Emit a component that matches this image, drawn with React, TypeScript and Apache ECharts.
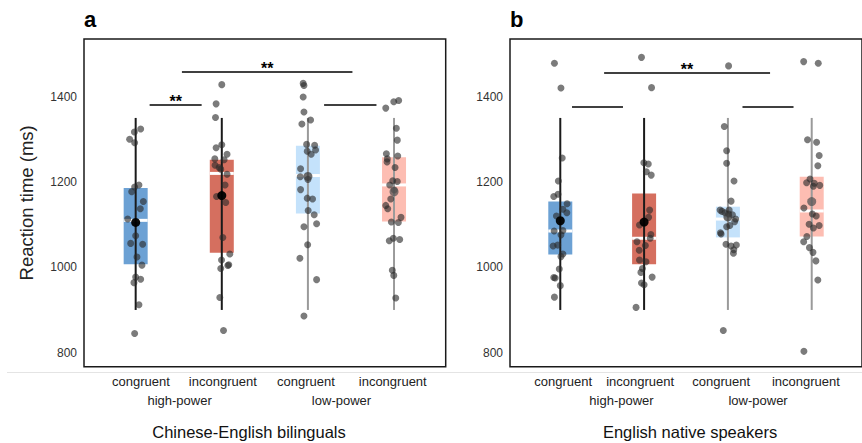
import React, { useEffect, useRef } from 'react';
import * as echarts from 'echarts';

const conditions = ['congruent', 'incongruent', 'congruent', 'incongruent'];
const groups = ['high-power', 'low-power'];
const panelLetters = ['a', 'b'];
const panelCaptions = ['Chinese-English bilinguals', 'English native speakers'];
const yTicks = [800, 1000, 1200, 1400];
const yName = 'Reaction time (ms)';

// Box statistics per condition: [lower whisker, Q1, median, Q3, upper whisker]
const boxA = [
  [900, 1007, 1110, 1186, 1350],
  [900, 1034, 1220, 1252, 1350],
  [900, 1126, 1215, 1285, 1350],
  [900, 1107, 1193, 1258, 1350],
];
const boxB = [
  [900, 1030, 1085, 1154, 1350],
  [900, 1007, 1068, 1173, 1350],
  [900, 1070, 1113, 1142, 1350],
  [900, 1072, 1132, 1212, 1350],
];
const meanA = [1105, 1168, 1213, 1177];
const meanB = [1109, 1106, 1118, 1154];

// Individual participants' reaction times (ms)
const rtA = [
  [1317, 1324, 1300, 1292, 1193, 1188, 1177, 1154, 1137, 1113, 1074, 1056, 1054, 1024, 1005, 977, 972, 964, 912, 845],
  [1428, 1383, 1351, 1280, 1287, 1265, 1254, 1252, 1239, 1234, 1230, 1218, 1193, 1166, 1152, 1070, 1031, 1017, 1004, 1006, 997, 929, 852],
  [1431, 1426, 1399, 1364, 1336, 1345, 1288, 1286, 1272, 1265, 1275, 1231, 1212, 1206, 1182, 1162, 1160, 1133, 1123, 1102, 1095, 1053, 1021, 971, 886],
  [1373, 1388, 1391, 1326, 1298, 1266, 1254, 1247, 1261, 1234, 1203, 1201, 1193, 1181, 1160, 1145, 1137, 1117, 1106, 1105, 1062, 1068, 1065, 993, 981, 928],
];
// Horizontal jitter of each point (category units)
const jitA = [
  [-0.015, 0.058, -0.07, -0.012, 0.038, -0.012, -0.046, 0.089, 0.054, -0.093, 0, -0.058, 0.081, 0.015, 0.073, 0, 0.058, -0.02, 0.038, -0.012],
  [0, -0.066, -0.073, -0.066, 0, 0.061, -0.081, 0.027, -0.078, -0.031, -0.012, 0.061, 0.038, -0.061, 0.046, 0.012, 0.093, -0.003, 0.07, 0.081, -0.012, -0.023, 0.02],
  [-0.055, -0.046, -0.055, -0.046, -0.07, 0.031, -0.015, 0.078, -0.008, 0.038, 0.089, -0.085, -0.089, 0, -0.085, -0.008, 0.054, 0.003, 0.073, 0.101, -0.046, -0.003, -0.093, 0.101, -0.046],
  [-0.096, -0.003, 0.054, 0.027, 0.038, -0.089, -0.078, -0.081, 0.043, 0.012, -0.015, 0.038, -0.05, 0.003, -0.038, -0.096, -0.073, 0.081, -0.031, 0.05, -0.055, -0.008, 0.066, -0.02, -0.003, 0.02],
];
const rtB = [
  [1478, 1420, 1256, 1202, 1166, 1171, 1149, 1136, 1128, 1120, 1085, 1086, 1076, 1050, 1052, 1031, 1025, 996, 976, 975, 957, 930],
  [1492, 1421, 1245, 1242, 1224, 1216, 1134, 1117, 1099, 1077, 1068, 1060, 1051, 1040, 1017, 1013, 997, 988, 977, 963, 959, 906],
  [1472, 1330, 1273, 1244, 1202, 1155, 1134, 1131, 1128, 1134, 1125, 1123, 1113, 1107, 1098, 1095, 1081, 1078, 1054, 1050, 1052, 1041, 1033, 852],
  [1482, 1478, 1299, 1293, 1262, 1238, 1207, 1198, 1197, 1190, 1192, 1139, 1125, 1120, 1101, 1092, 1098, 1072, 1060, 1046, 1035, 1015, 970, 803],
];
const jitB = [
  [-0.07, 0.008, 0.023, -0.023, -0.078, -0.027, 0.081, 0.031, 0.078, -0.046, -0.073, 0.031, 0.008, -0.085, -0.031, 0.031, 0.008, -0.012, -0.078, -0.061, 0, -0.07],
  [-0.031, 0.089, -0.003, 0.05, 0.027, 0.085, 0.066, 0.054, -0.055, 0.081, 0.073, -0.085, 0.015, -0.058, -0.055, 0.023, -0.02, -0.038, 0.096, -0.031, 0, -0.096],
  [0.008, -0.043, -0.015, -0.015, 0.073, 0.038, -0.093, -0.07, -0.035, 0.015, 0.008, 0.054, 0.093, 0.081, 0.023, -0.015, -0.089, -0.081, -0.023, 0.038, 0.101, 0.07, 0.066, -0.055],
  [-0.096, 0.078, -0.05, 0.058, 0.089, 0.073, -0.02, -0.061, 0.031, 0.02, 0.096, -0.093, 0.008, 0.054, -0.031, 0.02, 0.089, -0.058, -0.096, -0.027, 0.015, 0.05, 0.073, -0.093],
];

// Axis label anchor positions (category units)
const catLabelPosA = [0.061, 1.012, 1.976, 2.985];
const catLabelPosB = [0.035, 0.953, 1.919, 2.93];
const groupLabelPosA = [0.51, 2.39];
const groupLabelPosB = [0.73, 2.36];

// Significance brackets: [from, to, level(ms), label]
const bracketsA: [number, number, number, string][] = [
  [0.537, 2.517, 1458.6, '**'],
  [0.162, 0.766, 1380.5, '**'],
  [2.188, 2.796, 1380.5, ''],
];
const bracketsB: [number, number, number, string][] = [
  [0.523, 2.503, 1455.5, '**'],
  [0.14, 0.748, 1376.6, ''],
  [2.174, 2.783, 1376.6, ''],
];

const FONT = "'Liberation Sans', Arial, Helvetica, sans-serif";
const boxColors = ['#6ca1d4', '#d56f5f', '#c4e2fb', '#fdbdb2'];
const whiskerColors = ['#1a1a1a', '#1a1a1a', '#9a9a9a', '#9a9a9a'];
const meanColors = ['#000000', '#000000', '#3c3c3c', '#555555'];

function buildOption() {
  const panels = [
    { box: boxA, mean: meanA, rt: rtA, jit: jitA, cat: catLabelPosA, grp: groupLabelPosA, br: bracketsA },
    { box: boxB, mean: meanB, rt: rtB, jit: jitB, cat: catLabelPosB, grp: groupLabelPosB, br: bracketsB },
  ];
  const gridBase = {
    top: 39,
    height: 327.7,
    show: true,
    borderColor: '#1a1a1a',
    borderWidth: 1.5,
    backgroundColor: 'transparent',
  };
  const grid = [
    { ...gridBase, left: 84, width: 361.7 },
    { ...gridBase, left: 510, width: 362 },
  ];
  const xAxis: any[] = [];
  const yAxis: any[] = [];
  const series: any[] = [];

  panels.forEach((p, pi) => {
    const xBase = {
      type: 'value',
      gridIndex: pi,
      min: -0.6,
      max: 3.6,
      position: 'bottom',
      axisLine: { show: false },
      axisTick: { show: false },
      splitLine: { show: false },
    };
    xAxis.push({
      ...xBase,
      axisLabel: {
        customValues: p.cat,
        formatter: (v: number) => conditions[Math.round(v)] ?? '',
        margin: 8,
        fontSize: 13,
        color: '#222',
        fontFamily: FONT,
      },
    });
    xAxis.push({
      ...xBase,
      axisLabel: {
        customValues: p.grp,
        formatter: (v: number) => (v < 1.5 ? groups[0] : groups[1]),
        margin: 27,
        fontSize: 13,
        color: '#222',
        fontFamily: FONT,
      },
    });
    yAxis.push({
      type: 'value',
      gridIndex: pi,
      min: 767,
      max: 1535,
      axisLine: { show: false },
      axisTick: { show: false },
      splitLine: { show: false },
      axisLabel: {
        customValues: yTicks,
        formatter: (v: number) => String(v),
        margin: 7,
        fontSize: 12,
        color: '#333',
        fontFamily: FONT,
      },
      name: pi === 0 ? yName : '',
      nameLocation: 'middle',
      nameGap: 48,
      nameTextStyle: { fontSize: 18.5, color: '#222', fontFamily: FONT },
    });

    series.push({
      type: 'custom',
      xAxisIndex: pi * 2,
      yAxisIndex: pi,
      z: 2,
      silent: true,
      encode: { x: 0, y: [1, 2, 3, 4, 5] },
      data: p.box.map((b, i) => [i, ...b]),
      renderItem: (params: any, api: any) => {
        const i = api.value(0);
        const lo = api.coord([i, api.value(1)]);
        const q1 = api.coord([i, api.value(2)]);
        const md = api.coord([i, api.value(3)]);
        const q3 = api.coord([i, api.value(4)]);
        const hi = api.coord([i, api.value(5)]);
        const hw = 12;
        return {
          type: 'group',
          children: [
            {
              type: 'rect',
              shape: { x: q1[0] - hw, y: q3[1], width: hw * 2, height: q1[1] - q3[1] },
              style: { fill: boxColors[i] },
            },
            {
              type: 'line',
              shape: { x1: md[0] - hw, y1: md[1], x2: md[0] + hw, y2: md[1] },
              style: { stroke: '#ffffff', lineWidth: 3 },
            },
            {
              type: 'line',
              shape: { x1: lo[0], y1: lo[1], x2: hi[0], y2: hi[1] },
              style: { stroke: whiskerColors[i], lineWidth: 2 },
            },
          ],
        };
      },
    });

    const pts: number[][] = [];
    p.rt.forEach((vals, i) => {
      vals.forEach((v, k) => pts.push([i + p.jit[i][k], v]));
    });
    series.push({
      type: 'scatter',
      xAxisIndex: pi * 2,
      yAxisIndex: pi,
      z: 3,
      silent: true,
      symbolSize: 7,
      itemStyle: { color: '#2a2a2a', opacity: 0.62 },
      data: pts,
    });

    series.push({
      type: 'scatter',
      xAxisIndex: pi * 2,
      yAxisIndex: pi,
      z: 4,
      silent: true,
      symbolSize: 9,
      data: p.mean.map((m, i) => ({
        value: [i, m],
        itemStyle: { color: meanColors[i], opacity: i < 2 ? 0.95 : 0.75 },
      })),
      markLine: {
        silent: true,
        symbol: ['none', 'none'],
        animation: false,
        lineStyle: { color: '#000', width: 1.6, type: 'solid' },
        label: { show: false },
        data: p.br.map(([a, b, y, lab]) => [
          {
            coord: [a, y],
            label: {
              show: lab !== '',
              formatter: lab,
              position: 'middle',
              distance: -5,
              fontSize: 16,
              fontWeight: 'bold',
              color: '#000',
              fontFamily: FONT,
            },
          },
          { coord: [b, y] },
        ]),
      },
    });
  });

  const graphic: any[] = [
    {
      type: 'line',
      shape: { x1: 7, y1: 372.5, x2: 862, y2: 372.5 },
      style: { stroke: '#e4e4e4', lineWidth: 1 },
      silent: true,
    },
    {
      type: 'text',
      x: 84,
      y: 8,
      style: { text: panelLetters[0], font: `bold 22px ${FONT}`, fill: '#000', align: 'left', verticalAlign: 'top' },
    },
    {
      type: 'text',
      x: 510,
      y: 8,
      style: { text: panelLetters[1], font: `bold 22px ${FONT}`, fill: '#000', align: 'left', verticalAlign: 'top' },
    },
    {
      type: 'text',
      x: 249,
      y: 431.5,
      style: { text: panelCaptions[0], font: `16.5px ${FONT}`, fill: '#111', align: 'center', verticalAlign: 'middle' },
    },
    {
      type: 'text',
      x: 690,
      y: 431.5,
      style: { text: panelCaptions[1], font: `16.5px ${FONT}`, fill: '#111', align: 'center', verticalAlign: 'middle' },
    },
  ];

  return {
    animation: false,
    backgroundColor: '#ffffff',
    textStyle: { fontFamily: FONT },
    grid,
    xAxis,
    yAxis,
    series,
    graphic,
  };
}

export default function App() {
  const ref = useRef<HTMLDivElement>(null);
  useEffect(() => {
    if (!ref.current) return;
    const chart = echarts.init(ref.current, undefined, { renderer: 'svg' });
    chart.setOption(buildOption() as any);
    return () => chart.dispose();
  }, []);
  return (
    <div
      ref={ref}
      style={{ position: 'fixed', left: 0, top: 0, width: 862, height: 443, background: '#fff' }}
    />
  );
}
